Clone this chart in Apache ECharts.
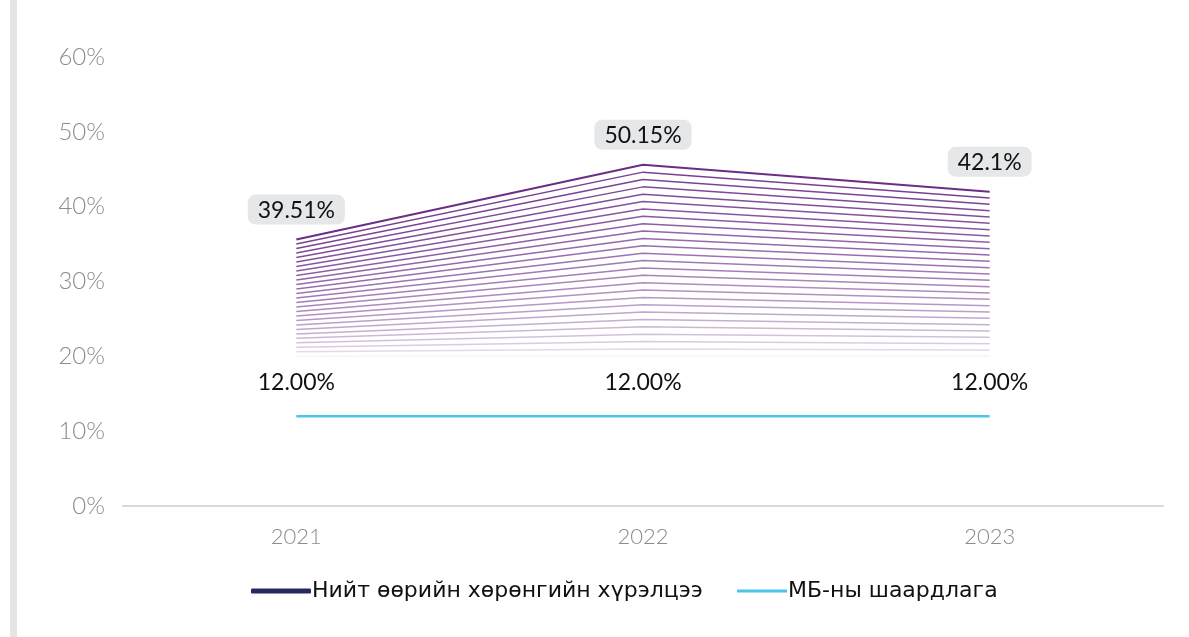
<!DOCTYPE html>
<html>
<head>
<meta charset="utf-8">
<script src="https://cdn.jsdelivr.net/npm/echarts@6/dist/echarts.min.js"></script>
<style>
  html, body { margin: 0; padding: 0; background: #fff; }
  #chart { width: 1189px; height: 637px; }
</style>
</head>
<body>
<div id="chart"></div>
<script>
const years = ['2021', '2022', '2023'];
// line positions as drawn in the picture
const equityRatio = [35.6, 45.6, 42.0];
const equityLabels = ['39.51%', '50.15%', '42.1%'];
const requirement = [12, 12, 12];
const requirementLabels = ['12.00%', '12.00%', '12.00%'];
const yTicks = [0, 10, 20, 30, 40, 50, 60];

const equityName = 'Нийт өөрийн хөрөнгийн хүрэлцээ';
const reqName = 'МБ-ны шаардлага';

// fading echo lines under the main line, down to the 20% floor
const echoFloor = 20;
const echoCount = 26;

const chart = echarts.init(document.getElementById('chart'));

const echoes = [];
for (let i = echoCount; i >= 1; i--) {
  const t = i / echoCount;
  const alpha = 0.06 + 0.9 * Math.pow(1 - t, 0.6);
  echoes.push({
    name: 'echo' + i,
    type: 'line',
    silent: true,
    symbol: 'none',
    z: 2,
    lineStyle: { color: 'rgba(112,50,140,' + alpha.toFixed(3) + ')', width: 1.5 },
    data: equityRatio.map((v) => +(echoFloor + (v - echoFloor) * (1 - t)).toFixed(3)),
  });
}

const labelFont = { fontFamily: 'Lato', fontSize: 23, color: '#111' };
const legendText = { fontFamily: 'DejaVu Sans', fontSize: 22, color: '#111', padding: [0, 0, 0, -4] };
const tickFont = { fontFamily: 'Lato', fontWeight: 300, color: '#8c8c8c' };

chart.setOption({
  animation: false,
  graphic: [
    { type: 'rect', left: 10, top: 0, shape: { width: 7, height: 637 }, style: { fill: '#e5e5e5' } },
  ],
  grid: { left: 123, right: 26, top: 57, bottom: 131 },
  legend: [
    {
      left: 246, top: 575,
      itemWidth: 60, itemHeight: 5, itemGap: 0,
      icon: 'roundRect',
      data: [{ name: equityName, itemStyle: { color: '#262b5e' } }],
      textStyle: legendText,
    },
    {
      left: 732, top: 575,
      itemWidth: 50, itemHeight: 3, itemGap: 0,
      icon: 'rect',
      data: [{ name: reqName, itemStyle: { color: '#4cc4ec' } }],
      textStyle: legendText,
    },
  ],
  xAxis: {
    type: 'category',
    data: years,
    boundaryGap: true,
    axisLine: { lineStyle: { color: '#d9d9d9', width: 2 } },
    axisTick: { show: false },
    axisLabel: { margin: 20, fontSize: 22, ...tickFont },
  },
  yAxis: {
    type: 'value',
    min: yTicks[0],
    max: yTicks[yTicks.length - 1],
    interval: 10,
    splitLine: { show: false },
    axisLine: { show: false },
    axisLabel: { margin: 18, fontSize: 24, formatter: '{value}%', ...tickFont },
  },
  series: [
    ...echoes,
    {
      name: equityName,
      type: 'line',
      symbol: 'circle',
      symbolSize: 0,
      showSymbol: true,
      z: 3,
      lineStyle: { color: '#6b2d86', width: 2 },
      itemStyle: { color: '#6b2d86' },
      data: equityRatio,
      label: {
        show: true,
        position: 'top',
        distance: 15,
        formatter: (p) => equityLabels[p.dataIndex],
        ...labelFont,
        backgroundColor: '#e6e7e9',
        borderRadius: 8,
        padding: [4, 10, 3, 10],
      },
    },
    {
      name: reqName,
      type: 'line',
      symbol: 'circle',
      symbolSize: 0,
      showSymbol: true,
      z: 3,
      lineStyle: { color: '#4cc4ec', width: 2.5 },
      itemStyle: { color: '#4cc4ec' },
      data: requirement,
      label: {
        show: true,
        position: 'top',
        distance: 22,
        formatter: (p) => requirementLabels[p.dataIndex],
        ...labelFont,
      },
    },
  ],
});
</script>
</body>
</html>
